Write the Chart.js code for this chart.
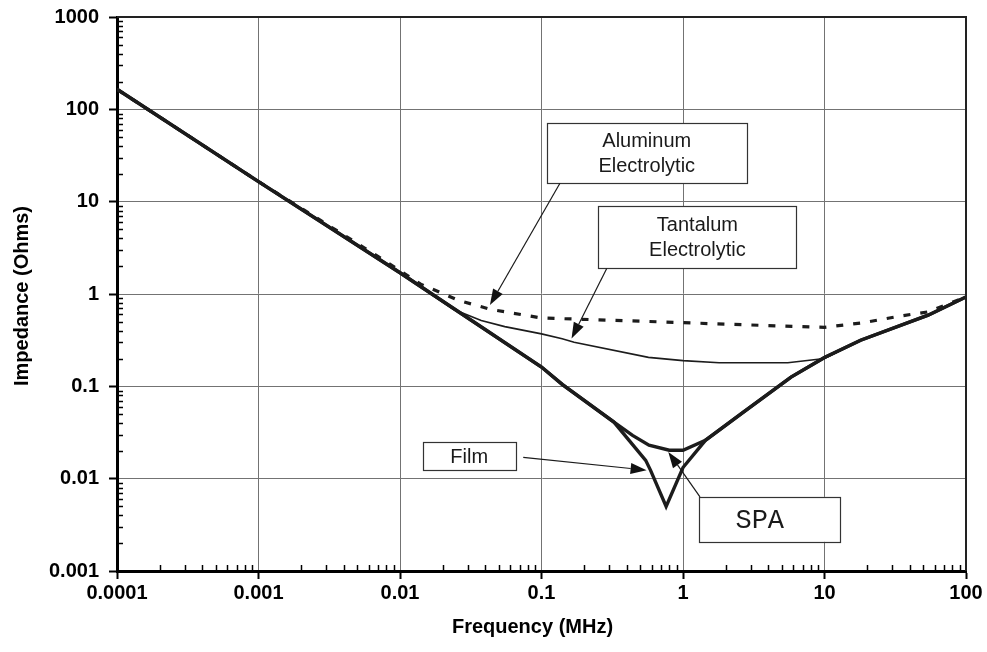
<!DOCTYPE html>
<html><head><meta charset="utf-8">
<script src="https://cdn.jsdelivr.net/npm/chart.js@4.4.1/dist/chart.umd.min.js"></script>
<style>html,body{margin:0;padding:0;background:#fff;}canvas{display:block;}</style>
</head><body>
<canvas id="c" width="987" height="652"></canvas>
<script>
// ---- data (frequency in MHz, impedance in Ohms) ----
const xTickValues = [0.0001, 0.001, 0.01, 0.1, 1, 10, 100];
const xTickLabels = ['0.0001', '0.001', '0.01', '0.1', '1', '10', '100'];
const yTickValues = [0.001, 0.01, 0.1, 1, 10, 100, 1000];
const yTickLabels = ['0.001', '0.01', '0.1', '1', '10', '100', '1000'];

const freqAl = [0.0001, 0.001, 0.0073, 0.014, 0.026, 0.044, 0.1, 1.0, 1.7, 10, 19, 35, 54, 100];
const zAl    = [165, 16.5, 2.45, 1.28, 0.85, 0.68, 0.55, 0.49, 0.475, 0.435, 0.49, 0.58, 0.64, 0.93];

const freqTa = [0.0001, 0.001, 0.01, 0.024, 0.0375, 0.055, 0.1, 0.14, 0.17, 0.57, 1.0, 1.8, 5.5, 10, 18, 54, 100];
const zTa    = [165, 16.5, 1.7, 0.68, 0.515, 0.443, 0.37, 0.327, 0.30, 0.206, 0.19, 0.18, 0.18, 0.2, 0.316, 0.59, 0.93];

const freqSPA = [0.0001, 0.001, 0.01, 0.1, 0.14, 0.325, 0.44, 0.575, 0.8, 1.0, 1.44, 2.6, 5.8, 10, 18, 54, 100];
const zSPA    = [165, 16.5, 1.7, 0.162, 0.105, 0.041, 0.0294, 0.023, 0.0203, 0.0203, 0.026, 0.051, 0.126, 0.205, 0.316, 0.59, 0.93];

const freqFilm = [0.0001, 0.001, 0.01, 0.1, 0.14, 0.325, 0.545, 0.59, 0.76, 1.0, 1.44, 2.6, 5.8, 10, 18, 54, 100];
const zFilm    = [165, 16.5, 1.7, 0.162, 0.105, 0.041, 0.0158, 0.0123, 0.005, 0.0132, 0.026, 0.051, 0.126, 0.205, 0.316, 0.59, 0.93];

const xTitle = 'Frequency (MHz)';
const yTitle = 'Impedance (Ohms)';

// ---- callouts (anchored in data coordinates) ----
const callouts = [
  { lines: ['Aluminum', 'Electrolytic'], box: [0.109, 70.5, 2.82, 15.8], from: [0.135, 15.8], to: [0.0432, 0.758], mono: false },
  { lines: ['Tantalum', 'Electrolytic'], box: [0.252, 8.96, 6.35, 1.89], from: [0.289, 1.89], to: [0.163, 0.33], mono: false },
  { lines: ['Film'], box: [0.01445, 0.0247, 0.0658, 0.01236], from: [0.0743, 0.017], to: [0.553, 0.01236], mono: false },
  { lines: ['SPA'], box: [1.304, 0.00635, 12.9, 0.00207], from: [1.318, 0.00635], to: [0.787, 0.0195], mono: true }
];

const pts = (xs, ys) => xs.map((x, i) => ({ x: x, y: ys[i] }));
const ink = '#1c1c1c';
const FONT = '"Liberation Sans", Arial, Helvetica, sans-serif';

function labelFor(values, labels, v) {
  for (let i = 0; i < values.length; i++) if (Math.abs(Math.log10(v) - Math.log10(values[i])) < 1e-6) return labels[i];
  return '';
}

const decor = {
  id: 'decor',
  afterDatasetsDraw(chart) {
    const ctx = chart.ctx, xs = chart.scales.x, ys = chart.scales.y, a = chart.chartArea;
    ctx.save();
    // frame top/right
    ctx.strokeStyle = '#222'; ctx.lineWidth = 2;
    ctx.beginPath(); ctx.moveTo(a.left, a.top); ctx.lineTo(a.right, a.top); ctx.lineTo(a.right, a.bottom); ctx.stroke();
    // minor ticks
    ctx.strokeStyle = '#000'; ctx.lineWidth = 1.5;
    for (let d = -4; d < 2; d++) {
      for (let k = 2; k < 10; k++) {
        const px = Math.round(xs.getPixelForValue(k * Math.pow(10, d))) + 0.5;
        ctx.beginPath(); ctx.moveTo(px, a.bottom); ctx.lineTo(px, a.bottom - 6); ctx.stroke();
      }
    }
    for (let d = -3; d < 3; d++) {
      for (let k = 2; k < 10; k++) {
        const py = Math.round(ys.getPixelForValue(k * Math.pow(10, d))) + 0.5;
        ctx.beginPath(); ctx.moveTo(a.left, py); ctx.lineTo(a.left + 6, py); ctx.stroke();
      }
    }
    // axis titles
    ctx.fillStyle = '#000'; ctx.textAlign = 'center'; ctx.textBaseline = 'middle';
    ctx.font = 'bold 20px ' + FONT;
    ctx.fillText(xTitle, (a.left + a.right) / 2 - 9, 627);
    ctx.save(); ctx.translate(22, (a.top + a.bottom) / 2 + 2); ctx.rotate(-Math.PI / 2);
    ctx.fillText(yTitle, 0, 0); ctx.restore();
    // callouts
    callouts.forEach(c => {
      const x0 = xs.getPixelForValue(c.box[0]), y0 = ys.getPixelForValue(c.box[1]);
      const x1 = xs.getPixelForValue(c.box[2]), y1 = ys.getPixelForValue(c.box[3]);
      ctx.fillStyle = '#fff'; ctx.fillRect(x0, y0, x1 - x0, y1 - y0);
      ctx.strokeStyle = '#333'; ctx.lineWidth = 1.2;
      ctx.strokeRect(Math.round(x0) + 0.5, Math.round(y0) + 0.5, Math.round(x1 - x0), Math.round(y1 - y0));
      ctx.fillStyle = '#1a1a1a'; ctx.textAlign = 'center'; ctx.textBaseline = 'middle';
      ctx.font = c.mono ? '27px "Liberation Mono", "Courier New", monospace' : '20px ' + FONT;
      const cx = (x0 + x1) / 2 - (c.mono ? 10 : 0), cy = (y0 + y1) / 2;
      const lh = 25;
      c.lines.forEach((t, i) => ctx.fillText(t, cx, cy + (i - (c.lines.length - 1) / 2) * lh + 1));
      // arrow
      const fx = xs.getPixelForValue(c.from[0]), fy = ys.getPixelForValue(c.from[1]);
      const tx = xs.getPixelForValue(c.to[0]), ty = ys.getPixelForValue(c.to[1]);
      const ang = Math.atan2(ty - fy, tx - fx), L = 16, W = 5.5;
      const bx = tx - L * Math.cos(ang), by = ty - L * Math.sin(ang);
      ctx.strokeStyle = '#1a1a1a'; ctx.lineWidth = 1.2;
      ctx.beginPath(); ctx.moveTo(fx, fy); ctx.lineTo(bx, by); ctx.stroke();
      ctx.fillStyle = '#111';
      ctx.beginPath(); ctx.moveTo(tx, ty);
      ctx.lineTo(bx + W * Math.sin(ang), by - W * Math.cos(ang));
      ctx.lineTo(bx - W * Math.sin(ang), by + W * Math.cos(ang));
      ctx.closePath(); ctx.fill();
    });
    ctx.restore();
  }
};

new Chart(document.getElementById('c'), {
  type: 'line',
  data: {
    datasets: [
      { label: 'Aluminum Electrolytic', data: pts(freqAl, zAl), borderColor: ink, borderWidth: 3.2, borderDash: [7, 10] },
      { label: 'Tantalum Electrolytic', data: pts(freqTa, zTa), borderColor: ink, borderWidth: 1.6 },
      { label: 'SPA', data: pts(freqSPA, zSPA), borderColor: ink, borderWidth: 3.4 },
      { label: 'Film', data: pts(freqFilm, zFilm), borderColor: ink, borderWidth: 3.4, borderJoinStyle: 'miter' }
    ]
  },
  options: {
    responsive: false, animation: false, devicePixelRatio: 1,
    layout: { padding: { left: 0, top: 17, right: 21, bottom: 0 } },
    plugins: { legend: { display: false }, tooltip: { enabled: false } },
    elements: { point: { radius: 0 }, line: { tension: 0, fill: false } },
    scales: {
      x: {
        type: 'logarithmic', min: 0.0001, max: 100,
        afterFit(s) { s.height = 81; s.paddingLeft = 0; s.paddingRight = 0; },
        afterBuildTicks(s) { s.ticks = xTickValues.map(v => ({ value: v, major: true })); },
        ticks: { callback: v => labelFor(xTickValues, xTickLabels, v), font: { family: FONT, size: 20, weight: 'bold' }, color: '#000', padding: 2, maxRotation: 0, autoSkip: false },
        grid: { color: '#737373', lineWidth: 1, tickLength: 8, tickColor: '#000', tickWidth: 2 },
        border: { color: '#000', width: 3 },
        title: { display: false }
      },
      y: {
        type: 'logarithmic', min: 0.001, max: 1000,
        afterFit(s) { s.width = 117; s.paddingTop = 0; s.paddingBottom = 0; },
        afterBuildTicks(s) { s.ticks = yTickValues.map(v => ({ value: v, major: true })); },
        ticks: { callback: v => labelFor(yTickValues, yTickLabels, v), font: { family: FONT, size: 20, weight: 'bold' }, color: '#000', padding: 10, autoSkip: false },
        grid: { color: '#737373', lineWidth: 1, tickLength: 8, tickColor: '#000', tickWidth: 2 },
        border: { color: '#000', width: 3 },
        title: { display: false }
      }
    }
  },
  plugins: [decor]
});
</script>
</body></html>
